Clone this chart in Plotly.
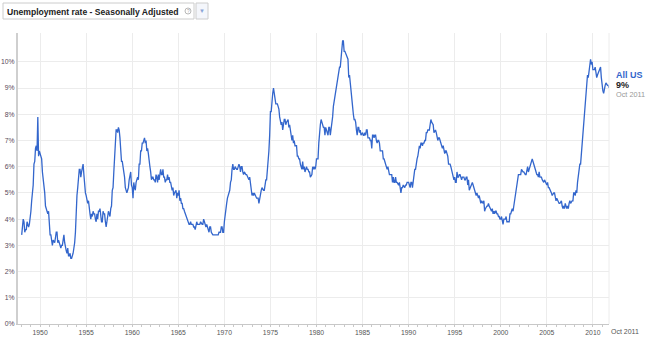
import plotly.graph_objects as go

# Monthly US unemployment rate (%), seasonally adjusted, Jan 1948 - Oct 2011
rate_1948_1949 = [
    3.4, 3.8, 4.0, 3.9, 3.5, 3.6, 3.6, 3.9, 3.8, 3.7, 3.8, 4.0,
    4.3, 4.7, 5.0, 5.3, 6.1, 6.2, 6.7, 6.8, 6.6, 7.9, 6.4, 6.6,
]
rate_1950s = [
    6.5, 6.4, 6.3, 5.8, 5.5, 5.4, 5.0, 4.5, 4.4, 4.2, 4.2, 4.3,
    3.7, 3.4, 3.4, 3.1, 3.0, 3.2, 3.1, 3.1, 3.3, 3.5, 3.5, 3.1,
    3.2, 3.1, 2.9, 2.9, 3.0, 3.0, 3.2, 3.4, 3.1, 3.0, 2.8, 2.7,
    2.9, 2.6, 2.6, 2.7, 2.5, 2.5, 2.6, 2.7, 2.9, 3.1, 3.5, 4.5,
    4.9, 5.2, 5.7, 5.9, 5.9, 5.6, 5.8, 6.0, 6.1, 5.7, 5.3, 5.0,
    4.9, 4.7, 4.6, 4.7, 4.3, 4.2, 4.0, 4.2, 4.1, 4.3, 4.2, 4.2,
    4.0, 3.9, 4.2, 4.0, 4.3, 4.3, 4.4, 4.1, 3.9, 3.9, 4.3, 4.2,
    4.2, 3.9, 3.7, 3.9, 4.1, 4.3, 4.2, 4.1, 4.4, 4.5, 5.1, 5.2,
    5.8, 6.4, 6.7, 7.4, 7.4, 7.3, 7.5, 7.4, 7.1, 6.7, 6.2, 6.2,
    6.0, 5.9, 5.6, 5.2, 5.1, 5.0, 5.1, 5.2, 5.5, 5.7, 5.8, 5.3,
]
rate_1960s = [
    5.2, 4.8, 5.4, 5.2, 5.1, 5.4, 5.5, 5.6, 5.5, 6.1, 6.1, 6.6,
    6.6, 6.9, 6.9, 7.0, 7.1, 6.9, 7.0, 6.6, 6.7, 6.5, 6.1, 6.0,
    5.8, 5.5, 5.6, 5.6, 5.5, 5.5, 5.4, 5.7, 5.6, 5.4, 5.7, 5.5,
    5.7, 5.9, 5.7, 5.7, 5.9, 5.6, 5.6, 5.4, 5.5, 5.5, 5.7, 5.5,
    5.6, 5.4, 5.4, 5.3, 5.1, 5.2, 4.9, 5.0, 5.1, 5.1, 4.8, 5.0,
    4.9, 5.1, 4.7, 4.8, 4.6, 4.6, 4.4, 4.4, 4.3, 4.2, 4.1, 4.0,
    4.0, 3.8, 3.8, 3.8, 3.9, 3.8, 3.8, 3.8, 3.7, 3.7, 3.6, 3.8,
    3.9, 3.8, 3.8, 3.8, 3.8, 3.9, 3.8, 3.8, 3.8, 4.0, 3.9, 3.8,
    3.7, 3.8, 3.7, 3.5, 3.5, 3.7, 3.7, 3.5, 3.4, 3.4, 3.4, 3.4,
    3.4, 3.4, 3.4, 3.4, 3.4, 3.5, 3.5, 3.5, 3.7, 3.7, 3.5, 3.5,
]
rate_1970s = [
    3.9, 4.2, 4.4, 4.6, 4.8, 4.9, 5.0, 5.1, 5.4, 5.5, 5.9, 6.1,
    5.9, 5.9, 6.0, 5.9, 5.9, 5.9, 6.0, 6.1, 6.0, 5.8, 6.0, 6.0,
    5.8, 5.7, 5.8, 5.7, 5.7, 5.7, 5.6, 5.6, 5.5, 5.6, 5.3, 5.2,
    4.9, 5.0, 4.9, 5.0, 4.9, 4.9, 4.8, 4.8, 4.8, 4.6, 4.8, 4.9,
    5.1, 5.2, 5.1, 5.1, 5.1, 5.4, 5.5, 5.5, 5.9, 6.0, 6.6, 7.2,
    8.1, 8.1, 8.6, 8.8, 9.0, 8.8, 8.6, 8.4, 8.4, 8.4, 8.3, 8.2,
    7.9, 7.7, 7.6, 7.7, 7.4, 7.6, 7.8, 7.8, 7.6, 7.7, 7.8, 7.8,
    7.5, 7.6, 7.4, 7.2, 7.0, 7.2, 6.9, 7.0, 6.8, 6.8, 6.8, 6.4,
    6.4, 6.3, 6.3, 6.1, 6.0, 5.9, 6.2, 5.9, 6.0, 5.8, 5.9, 6.0,
    5.9, 5.9, 5.8, 5.8, 5.6, 5.7, 5.7, 6.0, 5.9, 6.0, 5.9, 6.0,
]
rate_1980s = [
    6.3, 6.3, 6.3, 6.9, 7.5, 7.6, 7.8, 7.7, 7.5, 7.5, 7.5, 7.2,
    7.5, 7.4, 7.4, 7.2, 7.5, 7.5, 7.2, 7.4, 7.6, 7.9, 8.3, 8.5,
    8.6, 8.9, 9.0, 9.3, 9.4, 9.6, 9.8, 9.8, 10.1, 10.4, 10.8, 10.8,
    10.4, 10.4, 10.3, 10.2, 10.1, 10.1, 9.4, 9.5, 9.2, 8.8, 8.5, 8.3,
    8.0, 7.8, 7.8, 7.7, 7.4, 7.2, 7.5, 7.5, 7.3, 7.4, 7.2, 7.3,
    7.3, 7.2, 7.2, 7.3, 7.2, 7.4, 7.4, 7.1, 7.1, 7.1, 7.0, 7.0,
    6.7, 7.2, 7.2, 7.1, 7.2, 7.2, 7.0, 6.9, 7.0, 7.0, 6.9, 6.6,
    6.6, 6.6, 6.6, 6.3, 6.3, 6.2, 6.1, 6.0, 5.9, 6.0, 5.8, 5.7,
    5.7, 5.7, 5.7, 5.4, 5.6, 5.4, 5.4, 5.6, 5.4, 5.4, 5.3, 5.3,
    5.4, 5.2, 5.0, 5.2, 5.2, 5.3, 5.2, 5.2, 5.3, 5.3, 5.4, 5.4,
]
rate_1990s = [
    5.4, 5.3, 5.2, 5.4, 5.4, 5.2, 5.5, 5.7, 5.9, 5.9, 6.2, 6.3,
    6.4, 6.6, 6.8, 6.7, 6.9, 6.9, 6.8, 6.9, 6.9, 7.0, 7.0, 7.3,
    7.3, 7.4, 7.4, 7.4, 7.6, 7.8, 7.7, 7.6, 7.6, 7.3, 7.4, 7.4,
    7.3, 7.1, 7.0, 7.1, 7.1, 7.0, 6.9, 6.8, 6.7, 6.8, 6.6, 6.5,
    6.6, 6.6, 6.5, 6.4, 6.1, 6.1, 6.1, 6.0, 5.9, 5.8, 5.6, 5.5,
    5.6, 5.4, 5.4, 5.8, 5.6, 5.6, 5.7, 5.7, 5.6, 5.5, 5.6, 5.6,
    5.6, 5.5, 5.5, 5.6, 5.6, 5.3, 5.5, 5.1, 5.2, 5.2, 5.4, 5.4,
    5.3, 5.2, 5.2, 5.1, 4.9, 5.0, 4.9, 4.8, 4.9, 4.7, 4.6, 4.7,
    4.6, 4.6, 4.7, 4.3, 4.4, 4.5, 4.5, 4.5, 4.6, 4.5, 4.4, 4.4,
    4.3, 4.4, 4.2, 4.3, 4.2, 4.3, 4.3, 4.2, 4.2, 4.1, 4.1, 4.0,
]
rate_2000s = [
    4.0, 4.1, 4.0, 3.8, 4.0, 4.0, 4.0, 4.1, 3.9, 3.9, 3.9, 3.9,
    4.2, 4.2, 4.3, 4.4, 4.3, 4.5, 4.6, 4.9, 5.0, 5.3, 5.5, 5.7,
    5.7, 5.7, 5.7, 5.9, 5.8, 5.8, 5.8, 5.7, 5.7, 5.7, 5.9, 6.0,
    5.8, 5.9, 5.9, 6.0, 6.1, 6.3, 6.2, 6.1, 6.1, 6.0, 5.8, 5.7,
    5.7, 5.6, 5.8, 5.6, 5.6, 5.6, 5.5, 5.4, 5.4, 5.5, 5.4, 5.4,
    5.3, 5.4, 5.2, 5.2, 5.1, 5.0, 5.0, 4.9, 5.0, 5.0, 5.0, 4.9,
    4.7, 4.8, 4.7, 4.7, 4.6, 4.6, 4.7, 4.7, 4.5, 4.4, 4.5, 4.4,
    4.6, 4.5, 4.4, 4.5, 4.4, 4.6, 4.7, 4.6, 4.7, 4.7, 4.7, 5.0,
    5.0, 4.9, 5.1, 5.0, 5.4, 5.6, 5.8, 6.1, 6.1, 6.5, 6.8, 7.3,
    7.7, 8.2, 8.6, 8.9, 9.4, 9.5, 9.4, 9.7, 9.8, 10.1, 9.9, 10.0,
]
rate_2010s = [
    9.7, 9.7, 9.7, 9.8, 9.6, 9.4, 9.5, 9.6, 9.6, 9.7, 9.8, 9.4,
    9.0, 8.9, 8.8, 9.0, 9.1, 9.2, 9.1, 9.1, 9.1, 9.0,
]
start_year = 1948
x_tick_years = list(range(1950, 2011, 5))
y_tick_values = list(range(0, 11))
series_name = "All US"
latest_label = "9%"
latest_date = "Oct 2011"
title_text = "Unemployment rate - Seasonally Adjusted"

rates = (rate_1948_1949 + rate_1950s + rate_1960s + rate_1970s
         + rate_1980s + rate_1990s + rate_2000s + rate_2010s)
x_vals = [start_year + i / 12.0 for i in range(len(rates))]

W, H = 650, 337
L, R, T, B = 18, 609, 33, 324


def px(x):
    return (x - L) / (R - L)


def py(y):
    return (B - y) / (B - T)


FONT = "Arial, Liberation Sans, sans-serif"
BLUE = "#3366cc"

fig = go.Figure()
fig.add_trace(go.Scatter(x=x_vals, y=rates, mode="lines",
                         line=dict(color=BLUE, width=1.3),
                         name=series_name, showlegend=False,
                         hoverinfo="skip"))

fig.update_layout(
    width=W, height=H,
    margin=dict(l=L, r=W - R, t=T, b=H - B, pad=0),
    paper_bgcolor="white", plot_bgcolor="white",
    font=dict(family=FONT, size=7, color="#444"),
    showlegend=False,
    xaxis=dict(
        range=[1947.6, start_year + (len(rates) - 1) / 12.0],
        tickvals=x_tick_years, ticktext=[str(y) for y in x_tick_years],
        showgrid=True, gridcolor="#ececec", gridwidth=1,
        zeroline=False, showline=True, linecolor="#c8c8c8", linewidth=1,
        ticks="outside", ticklen=2, tickcolor="#c8c8c8",
        ticklabelstandoff=0,
        minor=dict(dtick=1, tick0=1948, ticks="outside", ticklen=2,
                   tickcolor="#c8c8c8", showgrid=False),
        tickfont=dict(size=6.8, color="#555"),
        automargin=False, fixedrange=True,
    ),
    yaxis=dict(
        range=[0, 11.1],
        tickvals=y_tick_values, ticktext=[f"{v}%" for v in y_tick_values],
        showgrid=True, gridcolor="#ececec", gridwidth=1,
        zeroline=False, showline=True, linecolor="#cfcfcf", linewidth=2,
        ticks="", tickfont=dict(size=6.8, color="#5a4a5a"),
        automargin=False, fixedrange=True,
    ),
)

shapes = [
    # right edge of plot
    dict(type="line", xref="paper", yref="paper", x0=1, x1=1, y0=0, y1=1,
         line=dict(color="#ececec", width=1)),
    # title box
    dict(type="rect", xref="paper", yref="paper",
         x0=px(3), x1=px(194), y0=py(19), y1=py(3),
         line=dict(color="#cccccc", width=1), fillcolor="white"),
    # dropdown button
    dict(type="rect", xref="paper", yref="paper",
         x0=px(196), x1=px(208), y0=py(19), y1=py(3),
         line=dict(color="#cccccc", width=1), fillcolor="#f4f6fb"),
    # help icon circle
    dict(type="circle", xref="paper", yref="paper",
         x0=px(185), x1=px(191), y0=py(14), y1=py(8),
         line=dict(color="#b8b8b8", width=1), fillcolor="white"),
]

annotations = [
    dict(text="<b>" + title_text + "</b>", xref="paper", yref="paper",
         x=px(5), y=py(11.5), xanchor="left", yanchor="middle",
         showarrow=False, font=dict(family=FONT, size=8.6, color="#222")),
    dict(text="?", xref="paper", yref="paper",
         x=px(188), y=py(11), xanchor="center", yanchor="middle",
         showarrow=False, font=dict(family=FONT, size=5, color="#aaa")),
    dict(text="▼", xref="paper", yref="paper",
         x=px(202), y=py(11), xanchor="center", yanchor="middle",
         showarrow=False, font=dict(family=FONT, size=6, color="#8aa4d6")),
    dict(text="<b>" + series_name + "</b>", xref="paper", yref="paper",
         x=px(614), y=py(75), xanchor="left", yanchor="middle",
         showarrow=False, font=dict(family=FONT, size=9, color=BLUE)),
    dict(text="<b>" + latest_label + "</b>", xref="paper", yref="paper",
         x=px(614), y=py(85), xanchor="left", yanchor="middle",
         showarrow=False, font=dict(family=FONT, size=9, color="#222")),
    dict(text=latest_date, xref="paper", yref="paper",
         x=px(614), y=py(94), xanchor="left", yanchor="middle",
         showarrow=False, font=dict(family=FONT, size=7.3, color="#999")),
    dict(text=latest_date, xref="paper", yref="paper",
         x=px(609), y=py(331), xanchor="left", yanchor="middle",
         showarrow=False, font=dict(family=FONT, size=7, color="#555")),
]

fig.update_layout(shapes=shapes, annotations=annotations)
fig.write_html("out.html", config={"displayModeBar": False})
